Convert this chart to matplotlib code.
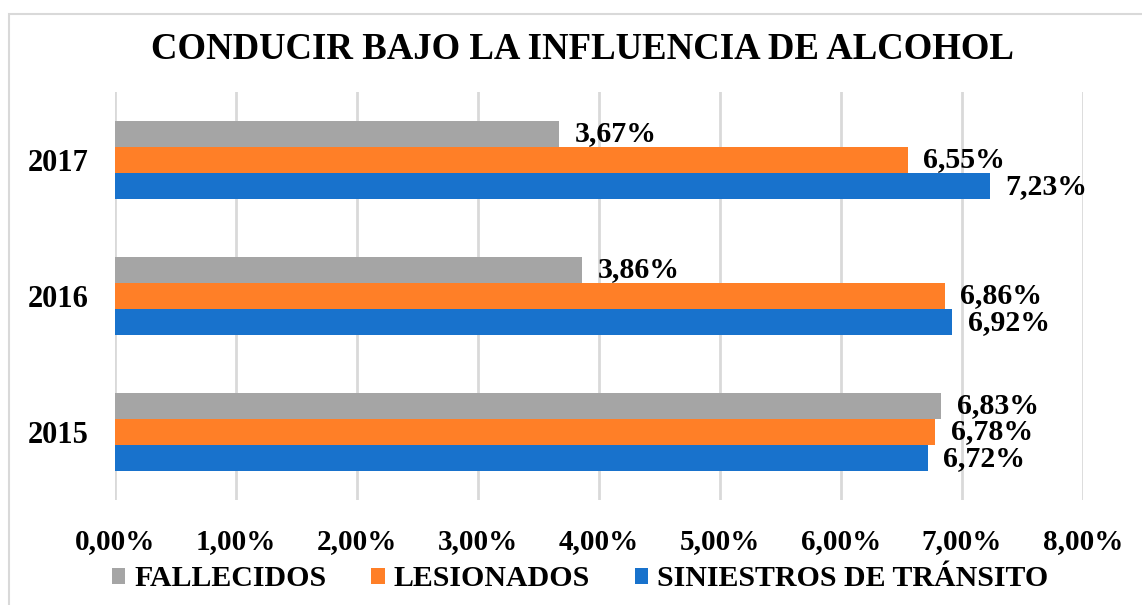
import matplotlib
matplotlib.use('Agg')
import matplotlib.pyplot as plt
import numpy as np
from matplotlib.patches import Rectangle

years = ['2015', '2016', '2017']
fallecidos = [6.83, 3.86, 3.67]
lesionados = [6.78, 6.86, 6.55]
siniestros = [6.72, 6.92, 7.23]
series_names = ['FALLECIDOS', 'LESIONADOS', 'SINIESTROS DE TRÁNSITO']
colors = ['#A5A5A5', '#FF7F27', '#1872CC']

plt.rcParams['font.family'] = ['Liberation Serif', 'DejaVu Serif']
plt.rcParams['font.weight'] = 'bold'

fig = plt.figure(figsize=(11.42, 6.05), dpi=100)
ax = fig.add_axes([0.1007, 0.1736, 0.8476, 0.6744])

# light frame around the chart area
fig.patches.append(Rectangle((0.008, -0.05), 1.1, 1.027, transform=fig.transFigure,
                             fill=False, edgecolor='#d9d9d9', linewidth=1.5))

y = np.arange(len(years))
w = 0.193
offsets = [w, 0, -w]
values = [fallecidos, lesionados, siniestros]

bars = []
for vals, off, col, name in zip(values, offsets, colors, series_names):
    b = ax.barh(y + off, vals, height=w, color=col, label=name, zorder=3)
    bars.append(b)
    for yy, v in zip(y + off, vals):
        ax.annotate(f'{v:.2f}%'.replace('.', ','), (v, yy), xytext=(11, 0),
                    textcoords='offset points', va='center', ha='left',
                    fontsize=21.5, fontweight='bold')

ax.set_xlim(0, 8)
ax.set_ylim(-0.5, 2.5)
ax.set_xticks(range(0, 9))
ax.set_xticklabels([f'{i:.2f}%'.replace('.', ',') for i in range(0, 9)], fontsize=21)
ax.set_yticks(y)
ax.set_yticklabels(years, fontsize=22)
ax.tick_params(axis='x', length=0, pad=20)
ax.tick_params(axis='y', length=0, pad=19)
ax.grid(axis='x', color='#d9d9d9', linewidth=2, zorder=0)
ax.set_axisbelow(True)
for s in ax.spines.values():
    s.set_visible(False)

fig.text(0.51, 0.918, 'CONDUCIR BAJO LA INFLUENCIA DE ALCOHOL', ha='center', va='center',
         fontsize=26.5, fontweight='bold')

fig.legend(handles=bars, labels=series_names, loc='center', bbox_to_anchor=(0.508, 0.043),
           ncol=3, frameon=False, fontsize=21.5, handlelength=0.45, handleheight=0.45,
           handletextpad=0.3, columnspacing=1.5)

fig.savefig('out.png', dpi=100)
